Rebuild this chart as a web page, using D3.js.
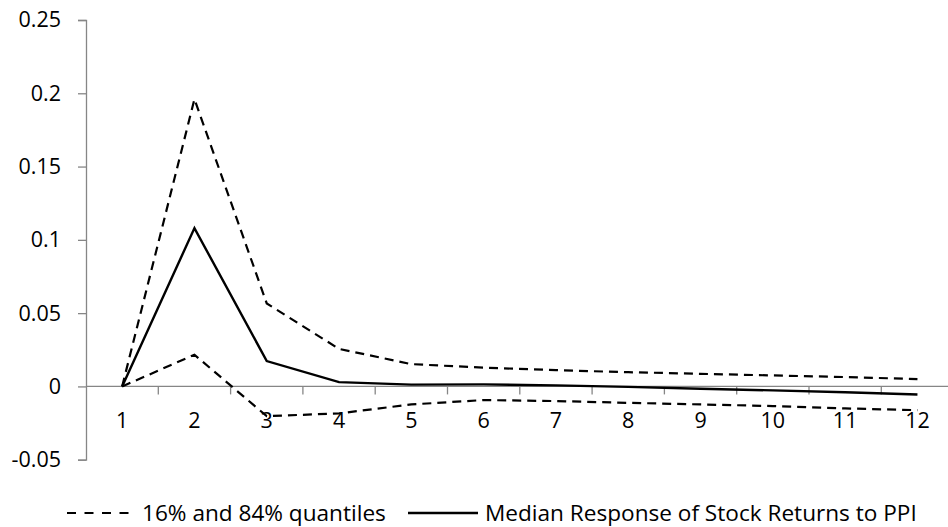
<!DOCTYPE html>
<html>
<head>
<meta charset="utf-8">
<script src="https://cdn.jsdelivr.net/npm/d3@7"></script>
<style>
  body { margin:0; background:#fff; }
  text { font-family: "Open Sans", sans-serif; fill:#000; }
</style>
</head>
<body>
<div id="chart-area"></div>
<script>
// data
const periods = [1,2,3,4,5,6,7,8,9,10,11,12];
const median = [0, 0.108, 0.0173, 0.0029, 0.0012, 0.0014, 0.0007, -0.0003, -0.0016, -0.0027, -0.004, -0.0055];
const upper  = [0, 0.196, 0.0566, 0.0256, 0.0152, 0.0128, 0.0111, 0.0097, 0.0086, 0.0075, 0.0064, 0.005];
const lower  = [0, 0.0216, -0.0203, -0.0184, -0.0123, -0.0093, -0.010, -0.0112, -0.0123, -0.0134, -0.015, -0.0162];
const yTicks = [-0.05, 0, 0.05, 0.1, 0.15, 0.2, 0.25];
const legendLabels = ["16% and 84% quantiles", "Median Response of Stock Returns to PPI"];

const W = 948, H = 527;
const margin = { left:86, top:20 };
const plotW = 867.6, plotH = 439.7;
const fontSize = "21.5px";

var svg = d3.select("#chart-area")
    .append("svg")
    .attr("width", W)
    .attr("height", H);

const g = svg.append("g")
    .attr("transform", "translate(" + margin.left + "," + margin.top + ")");

const y = d3.scaleLinear()
    .domain([-0.05, 0.25])
    .range([plotH, 0]);

const x = d3.scaleBand()
    .domain(periods)
    .range([0, plotW]);

const axisColor = "#868686";

// y axis
var yAxisCall = d3.axisLeft(y)
    .tickValues(yTicks)
    .tickSize(8)
    .tickFormat(function(d){ return d === 0 ? "0" : String(+d.toFixed(2)); });
const yAx = g.append("g").attr("class", "y-axis").call(yAxisCall);
yAx.select(".domain").attr("stroke", axisColor).attr("stroke-width", 1.3);
yAx.selectAll(".tick line").attr("stroke", axisColor).attr("stroke-width", 1.3);
yAx.selectAll(".tick text")
    .attr("x", -25)
    .attr("font-size", fontSize)
    .style("font-family", "'Open Sans', sans-serif");

// x axis at zero, ticks between categories
const xAx = g.append("g")
    .attr("class", "x-axis")
    .attr("transform", "translate(0," + y(0) + ")");
xAx.append("line")
    .attr("x1", 0).attr("x2", plotW)
    .attr("stroke", axisColor).attr("stroke-width", 1.3);
xAx.selectAll(".xtick")
    .data(periods.slice(1))
    .enter().append("line")
    .attr("x1", function(d){ return x(d); })
    .attr("x2", function(d){ return x(d); })
    .attr("y1", 0).attr("y2", 8)
    .attr("stroke", axisColor).attr("stroke-width", 1.3);
xAx.selectAll(".xlabel")
    .data(periods)
    .enter().append("text")
    .attr("x", function(d){ return x(d) + x.bandwidth()/2; })
    .attr("y", 42)
    .attr("text-anchor", "middle")
    .attr("font-size", fontSize)
    .text(function(d){ return d; });

const line = d3.line()
    .x(function(d, i){ return x(periods[i]) + x.bandwidth()/2; })
    .y(function(d){ return y(d); });

[upper, lower].forEach(function(s){
    g.append("path")
        .datum(s)
        .attr("d", line)
        .attr("fill", "none")
        .attr("stroke", "#000")
        .attr("stroke-width", 2.2)
        .attr("stroke-dasharray", "9,6");
});

g.append("path")
    .datum(median)
    .attr("d", line)
    .attr("fill", "none")
    .attr("stroke", "#000")
    .attr("stroke-width", 2.4);

// legend
const leg = svg.append("g").attr("class", "legend");
leg.append("line")
    .attr("x1", 67).attr("x2", 129).attr("y1", 513).attr("y2", 513)
    .attr("stroke", "#000").attr("stroke-width", 2.2)
    .attr("stroke-dasharray", "9,8.5");
leg.append("text")
    .attr("x", 142).attr("y", 521)
    .attr("font-size", "22.6px")
    .text(legendLabels[0]);
leg.append("line")
    .attr("x1", 408).attr("x2", 478).attr("y1", 513).attr("y2", 513)
    .attr("stroke", "#000").attr("stroke-width", 2.4);
leg.append("text")
    .attr("x", 485).attr("y", 521)
    .attr("font-size", "22.6px")
    .text(legendLabels[1]);
</script>
</body>
</html>
